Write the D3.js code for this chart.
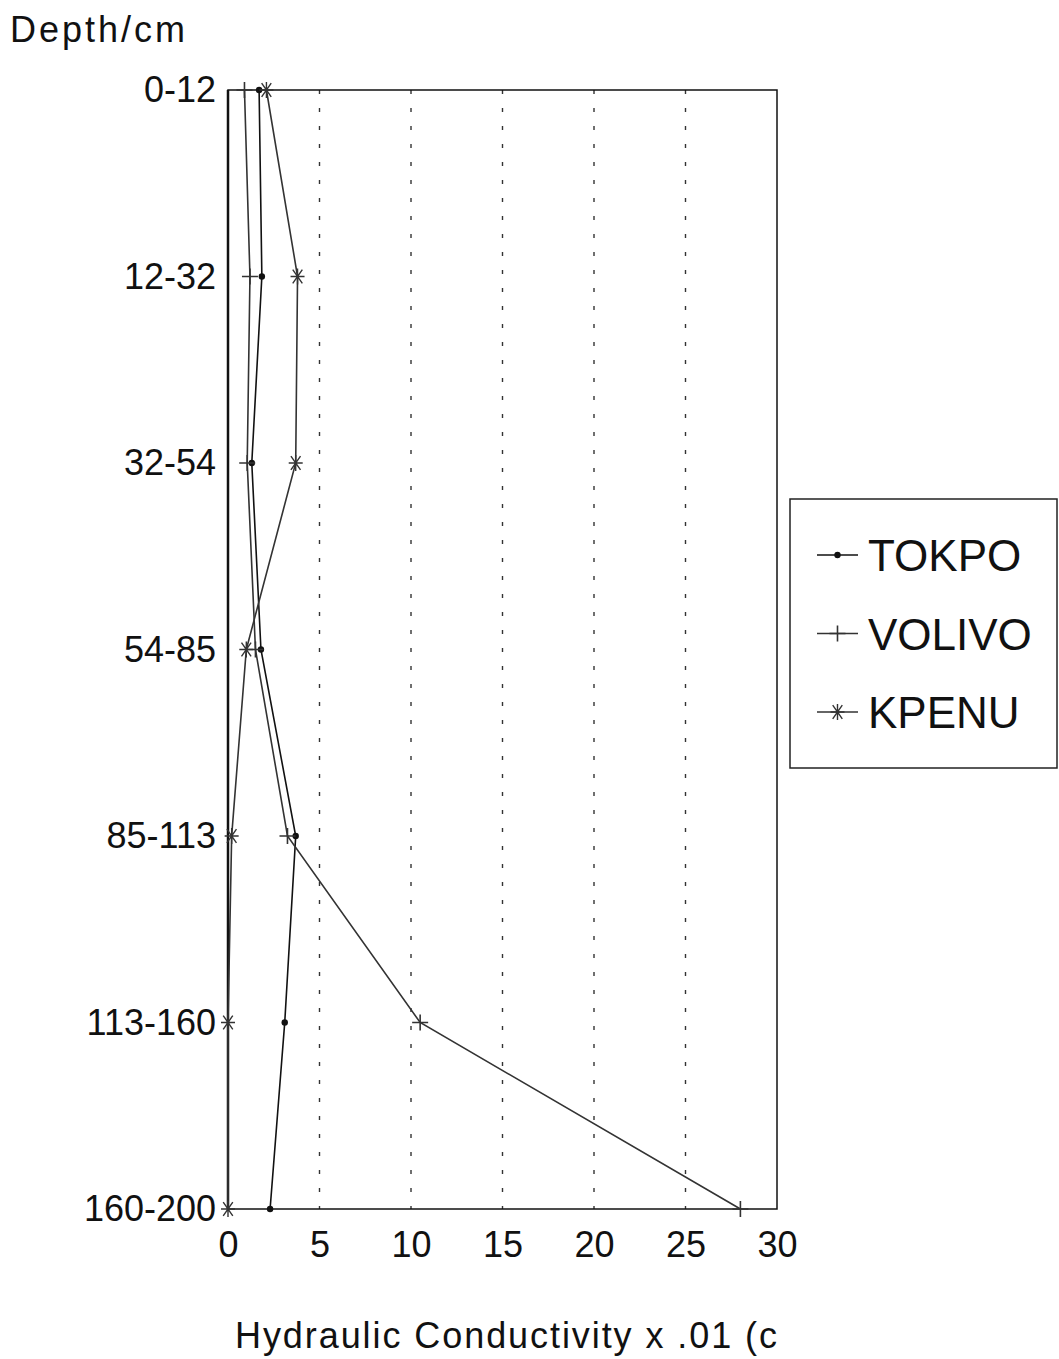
<!DOCTYPE html>
<html>
<head>
<meta charset="utf-8">
<script src="https://cdn.jsdelivr.net/npm/d3@7"></script>
<style>
  body { margin: 0; background: #fff; }
  svg { display: block; }
  text { font-family: "Liberation Sans", Arial, sans-serif; fill: #111; }
</style>
</head>
<body>
<div id="chart"></div>
<script>
// depth layers (top to bottom)
var depths = ['0-12', '12-32', '32-54', '54-85', '85-113', '113-160', '160-200'];
// hydraulic conductivity x .01
var tokpo  = [1.7, 1.85, 1.3, 1.8, 3.7, 3.1, 2.3];
var volivo = [0.9, 1.2, 1.05, 1.5, 3.25, 10.5, 28.0];
var kpenu  = [2.1, 3.8, 3.7, 1.0, 0.2, 0, 0];
var xTicks = [0, 5, 10, 15, 20, 25, 30];
var seriesNames = ['TOKPO', 'VOLIVO', 'KPENU'];

var width = 1059, height = 1359;
var mLeft = 228, mRight = 777, mTop = 90, mBottom = 1209;

var svg = d3.select('#chart').append('svg').attr('width', width).attr('height', height);

var x = d3.scaleLinear().domain([0, 30]).range([mLeft, mRight]);
var y = d3.scalePoint().domain(depths).range([mTop, mBottom]);

// dotted grid lines
svg.append('g').selectAll('line')
  .data(xTicks.filter(function(d){ return d > 0 && d < 30; }))
  .enter().append('line')
  .attr('x1', function(d){ return x(d); }).attr('x2', function(d){ return x(d); })
  .attr('y1', mTop).attr('y2', mBottom)
  .attr('stroke', '#333').attr('stroke-width', 1.4)
  .attr('stroke-dasharray', '4,14');

// frame
svg.append('rect').attr('x', mLeft).attr('y', mTop)
  .attr('width', mRight - mLeft).attr('height', mBottom - mTop)
  .attr('fill', 'none').attr('stroke', '#111').attr('stroke-width', 1.5);
svg.append('line').attr('x1', mLeft).attr('x2', mLeft).attr('y1', mTop).attr('y2', mBottom)
  .attr('stroke', '#111').attr('stroke-width', 2.5);

// axes (labels only, no tick marks)
var xAxis = svg.append('g').attr('transform', 'translate(0,' + mBottom + ')')
  .call(d3.axisBottom(x).tickValues(xTicks).tickSize(0).tickPadding(22).tickFormat(d3.format('d')));
xAxis.select('.domain').remove();
xAxis.selectAll('text').attr('font-size', 36);

var yAxis = svg.append('g').attr('transform', 'translate(' + mLeft + ',0)')
  .call(d3.axisLeft(y).tickSize(0).tickPadding(12));
yAxis.select('.domain').remove();
yAxis.selectAll('text').attr('font-size', 36);
svg.selectAll('.tick text').style('font-family', '"Liberation Sans", Arial, sans-serif').attr('fill', '#111');

// titles
svg.append('text').attr('x', 10).attr('y', 42).attr('font-size', 36)
  .attr('textLength', 175).text('Depth/cm');
svg.append('text').attr('x', 235).attr('y', 1348).attr('font-size', 36)
  .attr('textLength', 542).text('Hydraulic Conductivity x .01 (c');

// markers
function drawMarker(g, type, cx, cy, col) {
  if (type === 'dot') {
    g.append('circle').attr('cx', cx).attr('cy', cy).attr('r', 3.2).attr('fill', col);
  } else if (type === 'plus') {
    g.append('path').attr('d', 'M' + (cx - 8) + ',' + cy + 'H' + (cx + 8) + 'M' + cx + ',' + (cy - 8) + 'V' + (cy + 8))
      .attr('stroke', col).attr('stroke-width', 1.6).attr('fill', 'none');
  } else {
    var r = 8, dx = r * Math.sin(Math.PI / 6) * 1.2, dy = r * Math.cos(Math.PI / 6);
    g.append('path').attr('d',
      'M' + cx + ',' + (cy - r) + 'V' + (cy + r) +
      'M' + (cx - dx) + ',' + (cy - dy) + 'L' + (cx + dx) + ',' + (cy + dy) +
      'M' + (cx + dx) + ',' + (cy - dy) + 'L' + (cx - dx) + ',' + (cy + dy) +
      'M' + (cx - 7) + ',' + cy + 'H' + (cx + 7))
      .attr('stroke', col).attr('stroke-width', 1.4).attr('fill', 'none');
  }
}

var series = [
  { name: seriesNames[0], values: tokpo,  marker: 'dot',  color: '#111' },
  { name: seriesNames[1], values: volivo, marker: 'plus', color: '#333' },
  { name: seriesNames[2], values: kpenu,  marker: 'star', color: '#333' }
];

var line = d3.line()
  .x(function(d){ return x(d[1]); })
  .y(function(d){ return y(d[0]); });

series.forEach(function(s) {
  var pts = depths.map(function(dep, i){ return [dep, s.values[i]]; });
  var g = svg.append('g');
  g.append('path').datum(pts).attr('d', line)
    .attr('fill', 'none').attr('stroke', s.color).attr('stroke-width', 1.6);
  pts.forEach(function(p) { drawMarker(g, s.marker, x(p[1]), y(p[0]), s.color); });
});

// legend
var lg = svg.append('g');
lg.append('rect').attr('x', 790).attr('y', 499).attr('width', 267).attr('height', 269)
  .attr('fill', '#fff').attr('stroke', '#222').attr('stroke-width', 1.5);
series.forEach(function(s, i) {
  var ly = 555 + i * 78.5;
  lg.append('line').attr('x1', 817).attr('x2', 858).attr('y1', ly).attr('y2', ly)
    .attr('stroke', s.color).attr('stroke-width', 1.6);
  drawMarker(lg, s.marker, 837.5, ly, s.color);
  lg.append('text').attr('x', 868).attr('y', ly + 16).attr('font-size', 44).text(s.name);
});
</script>
</body>
</html>
